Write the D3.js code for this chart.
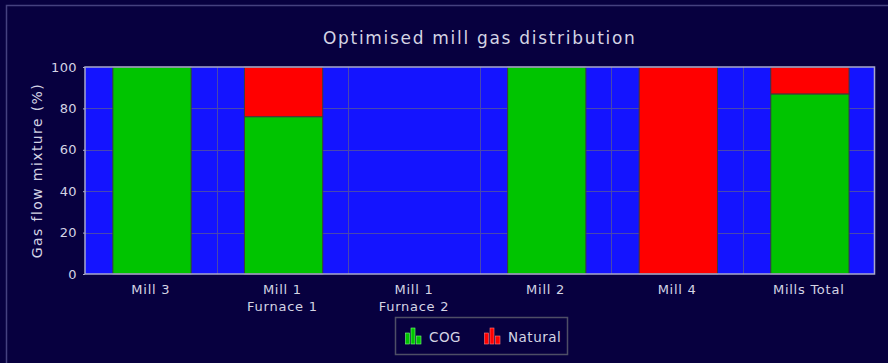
<!DOCTYPE html>
<html>
<head>
<meta charset="utf-8">
<script src="https://cdn.jsdelivr.net/npm/d3@7"></script>
<style>
  html, body { margin: 0; padding: 0; background: #07003f; }
  svg { display: block; }
  text { font-family: "DejaVu Sans", Verdana, sans-serif; }
</style>
</head>
<body>
<svg id="chart" width="888" height="363"></svg>
<script>
// Mill gas mixture per unit, in percent of total flow
const categories = [["Mill 3"], ["Mill 1", "Furnace 1"], ["Mill 1", "Furnace 2"], ["Mill 2"], ["Mill 4"], ["Mills Total"]];
const cogValues = [100, 76, 0, 100, 0, 87];
const naturalValues = [0, 24, 0, 0, 100, 13];
const seriesNames = ["COG", "Natural"];
const yTicks = [0, 20, 40, 60, 80, 100];

const W = 888, H = 363;
const plot = { left: 85, top: 67, right: 874.5, bottom: 274 };
const colors = { COG: "#00c400", Natural: "#ff0000" };
const textColor = "#d4d4e4";

const svg = d3.select("#chart");

// background and outer frame
svg.append("rect").attr("width", W).attr("height", H).attr("fill", "#07003f");
svg.append("rect")
  .attr("x", 6.5).attr("y", 5.5).attr("width", W + 10).attr("height", H + 10)
  .attr("fill", "none").attr("stroke", "#45417f").attr("stroke-width", 1.5);

// title
svg.append("text")
  .attr("x", (plot.left + plot.right) / 2).attr("y", 44)
  .attr("text-anchor", "middle")
  .attr("fill", textColor)
  .attr("font-size", 17)
  .attr("letter-spacing", 1.7)
  .text("Optimised mill gas distribution");

const keys = categories.map(c => c.join(" "));
const x = d3.scaleBand().domain(keys).range([plot.left, plot.right]).paddingInner(0).paddingOuter(0);
const y = d3.scaleLinear().domain([0, 100]).range([plot.bottom, plot.top]);

// plot background
svg.append("rect")
  .attr("x", plot.left).attr("y", plot.top)
  .attr("width", plot.right - plot.left).attr("height", plot.bottom - plot.top)
  .attr("fill", "#1414ff");

// grid
const grid = svg.append("g").attr("stroke", "#4848b0").attr("stroke-width", 1);
grid.selectAll("line.h").data(yTicks.slice(1, -1)).join("line")
  .attr("x1", plot.left).attr("x2", plot.right)
  .attr("y1", d => Math.round(y(d)) + 0.5).attr("y2", d => Math.round(y(d)) + 0.5);
grid.selectAll("line.v").data(keys.slice(1)).join("line")
  .attr("x1", d => Math.round(x(d)) + 0.5).attr("x2", d => Math.round(x(d)) + 0.5)
  .attr("y1", plot.top).attr("y2", plot.bottom);

// stacked bars
const stackData = keys.map((k, i) => ({ key: k, COG: cogValues[i], Natural: naturalValues[i] }));
const stacked = d3.stack().keys(seriesNames)(stackData);
const barW = x.bandwidth() * 0.595;
const bars = svg.append("g");
stacked.forEach(layer => {
  bars.selectAll(null).data(layer.filter(d => d[1] - d[0] > 0)).join("rect")
    .attr("x", d => x(d.data.key) + (x.bandwidth() - barW) / 2 + 1.2)
    .attr("y", d => y(d[1]))
    .attr("width", barW)
    .attr("height", d => y(d[0]) - y(d[1]))
    .attr("fill", colors[layer.key])
    .attr("stroke", "#3c3c3c")
    .attr("stroke-width", 1);
});

// plot frame
svg.append("rect")
  .attr("x", plot.left).attr("y", plot.top)
  .attr("width", plot.right - plot.left).attr("height", plot.bottom - plot.top)
  .attr("fill", "none").attr("stroke", "#a8a8cc").attr("stroke-width", 1.5);

// y axis
const yAxis = svg.append("g")
  .attr("transform", `translate(${plot.left},0)`)
  .call(d3.axisLeft(y).tickValues(yTicks).tickSize(2).tickPadding(6));
yAxis.select(".domain").remove();
yAxis.selectAll(".tick line").attr("stroke", "#a8a8cc");
yAxis.selectAll(".tick text").attr("fill", textColor).attr("font-size", 13)
  .attr("letter-spacing", 0.4)
  .attr("font-family", "DejaVu Sans, Verdana, sans-serif");

svg.append("text")
  .attr("transform", `translate(42,${(plot.top + plot.bottom) / 2}) rotate(-90)`)
  .attr("text-anchor", "middle")
  .attr("fill", textColor)
  .attr("font-size", 14)
  .attr("letter-spacing", 1.4)
  .text("Gas flow mixture (%)");

// x axis labels (multi-line)
const xAxis = svg.append("g")
  .attr("transform", `translate(0,${plot.bottom})`)
  .call(d3.axisBottom(x).tickSize(0).tickFormat(() => ""));
xAxis.select(".domain").remove();
xAxis.selectAll(".tick").each(function (d, i) {
  const t = d3.select(this).select("text")
    .attr("fill", textColor).attr("font-size", 13)
    .attr("font-family", "DejaVu Sans, Verdana, sans-serif")
    .attr("letter-spacing", 0.75)
    .attr("y", 0).attr("dy", null);
  categories[i].forEach((line, j) => {
    t.append("tspan").attr("x", 0).attr("y", 20 + j * 17).text(line);
  });
});

// legend
const legend = svg.append("g");
legend.append("rect")
  .attr("x", 395.5).attr("y", 317.5).attr("width", 172).attr("height", 37)
  .attr("fill", "none").attr("stroke", "#4e4e66").attr("stroke-width", 1.5);
const legendItems = [{ name: "COG", x: 405 }, { name: "Natural", x: 484 }];
legendItems.forEach(item => {
  const g = legend.append("g").attr("transform", `translate(${item.x},328)`);
  const glyph = [[0.5, 5, 4, 11], [6, 0, 4, 16], [11.5, 8, 4.5, 8]];
  g.selectAll("rect").data(glyph).join("rect")
    .attr("x", d => d[0]).attr("y", d => d[1]).attr("width", d => d[2]).attr("height", d => d[3])
    .attr("fill", colors[item.name])
    .attr("stroke", item.name === "COG" ? "#7cff7c" : "#ff7c7c").attr("stroke-width", 0.6);
  g.append("text").attr("x", 24).attr("y", 14)
    .attr("fill", textColor).attr("font-size", 13.5).attr("letter-spacing", 0.5)
    .text(item.name);
});
</script>
</body>
</html>
